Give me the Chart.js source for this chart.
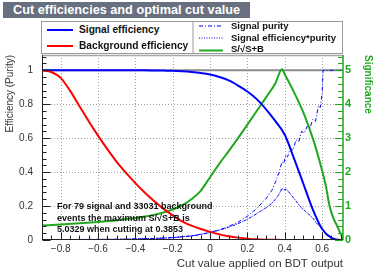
<!DOCTYPE html>
<html><head><meta charset="utf-8">
<script src="https://cdn.jsdelivr.net/npm/chart.js@4"></script>
<style>
html,body{margin:0;padding:0;background:#fff;}
#wrap{position:relative;width:382px;height:273px;overflow:hidden;font-family:"Liberation Sans",Arial,Helvetica,sans-serif;}
#c{position:absolute;left:0;top:0;}
.abs{position:absolute;white-space:nowrap;}
#title{left:3px;top:2px;width:247px;height:16px;background:#687080;color:#fff;font-weight:bold;font-size:12.7px;line-height:16px;padding-left:10px;box-sizing:border-box;}
#legbox{left:41px;top:21px;width:302px;height:33px;border:1px solid #9a9a9a;box-sizing:border-box;background:#fff;}
.lt{font-weight:bold;color:#111;height:12px;line-height:12px;}
.l1{font-size:10.2px;}
.l2{font-size:9.5px;}
#note{left:57px;top:201px;font-weight:bold;font-size:9px;line-height:11.5px;color:#111;}
svg{position:absolute;left:0;top:0;}
</style>
</head><body>
<div id="wrap">
<canvas id="c" width="382" height="273"></canvas>
<div id="title" class="abs">Cut efficiencies and optimal cut value</div>
<div id="legbox" class="abs"></div>
<svg width="382" height="273">
  <line x1="193" y1="21" x2="193" y2="54" stroke="#9a9a9a" stroke-width="1"/>
  <line x1="47" y1="30" x2="73" y2="30" stroke="#0000ff" stroke-width="2"/>
  <line x1="47" y1="46" x2="73" y2="46" stroke="#ff0000" stroke-width="2"/>
  <line x1="199" y1="26" x2="223" y2="26" stroke="#0000ff" stroke-width="1" stroke-dasharray="4 2 1 2"/>
  <line x1="199" y1="38" x2="223" y2="38" stroke="#0000ff" stroke-width="1" stroke-dasharray="1 1.5"/>
  <line x1="199" y1="50.5" x2="223" y2="50.5" stroke="#1fa81f" stroke-width="2"/>
</svg>
<div class="abs lt l1" style="left:79px;top:24px;">Signal efficiency</div>
<div class="abs lt l1" style="left:79px;top:40px;">Background efficiency</div>
<div class="abs lt l2" style="left:231px;top:20px;">Signal purity</div>
<div class="abs lt l2" style="left:231px;top:32px;">Signal efficiency*purity</div>
<div class="abs lt l2" style="left:231px;top:42.5px;">S/√S+B</div>
<div id="note" class="abs">For 79 signal and 33031 background<br>events the maximum S/√S+B is<br>5.0329 when cutting at 0.3853</div>
</div>
<script>
// ---- data ----
const cuts = [-0.9,-0.85,-0.8,-0.75,-0.7,-0.65,-0.6,-0.55,-0.5,-0.45,-0.4,-0.35,-0.3,-0.25,-0.2,-0.15,-0.1,-0.05,0,0.05,0.1,0.15,0.2,0.25,0.3,0.35,0.4,0.45,0.5,0.55,0.6,0.65,0.7,0.712];
const signalEff = [1,1,1,1,1,1,1,1,1,1,1,1,0.999,0.998,0.997,0.994,0.99,0.984,0.975,0.96,0.94,0.91,0.875,0.83,0.77,0.70,0.62,0.48,0.33,0.18,0.065,0.012,0,0];
const backgroundEff = [1.0,0.99,0.955,0.88,0.79,0.70,0.615,0.535,0.46,0.395,0.335,0.28,0.23,0.185,0.145,0.11,0.085,0.065,0.048,0.033,0.022,0.014,0.008,0.004,0.002,0.0009,0.0004,0,0,0,0,0,0,0];

const purityCuts = [-0.9,-0.7,-0.5,-0.4,-0.3,-0.2,-0.1,-0.05,0,0.05,0.1,0.15,0.2,0.25,0.3,0.33,0.35,0.37,0.385,0.395,0.405,0.415,0.43,0.445,0.46,0.475,0.49,0.505,0.52,0.535,0.55,0.565,0.58,0.59,0.6,0.605,0.712];
const signalPurity = [0.0024,0.003,0.004,0.006,0.009,0.014,0.024,0.032,0.045,0.06,0.08,0.105,0.14,0.185,0.245,0.29,0.34,0.40,0.46,0.45,0.50,0.49,0.54,0.53,0.59,0.58,0.64,0.63,0.67,0.66,0.71,0.70,0.79,0.78,0.86,1.0,1.0];

const effPurCuts = [-0.9,-0.5,-0.3,-0.2,-0.1,0,0.05,0.1,0.15,0.2,0.25,0.3,0.33,0.35,0.37,0.385,0.395,0.41,0.43,0.45,0.48,0.5,0.53,0.55,0.57,0.6,0.62,0.65,0.68,0.712];
const effTimesPurity = [0.0024,0.004,0.009,0.014,0.024,0.044,0.058,0.075,0.096,0.122,0.155,0.19,0.215,0.24,0.27,0.305,0.295,0.30,0.27,0.245,0.2,0.18,0.15,0.13,0.10,0.065,0.04,0.012,0.002,0];

const signifCuts = [-0.9,-0.8,-0.7,-0.6,-0.5,-0.4,-0.35,-0.3,-0.25,-0.2,-0.15,-0.1,-0.05,0,0.05,0.1,0.15,0.2,0.25,0.3,0.35,0.385,0.4,0.45,0.5,0.55,0.6,0.62,0.64,0.66,0.68,0.7,0.712];
const significance = [0.43,0.455,0.49,0.53,0.58,0.645,0.69,0.74,0.81,0.9,1.02,1.2,1.45,1.85,2.25,2.62,3.0,3.4,3.8,4.2,4.62,5.03,4.88,4.35,3.75,3.0,2.05,1.6,1.0,0.65,0.42,0.18,0.04];

const xRange = [-0.9, 0.712];
const effRange = [0, 1.09];
const sigRange = [0, 5.45];
const xStep = 0.2, xMinorStep = 0.05;
const effStep = 0.2, effMinorStep = 0.04;
const sigStep = 1, sigMinorStep = 0.2;
const unityLevel = 1;

const GREEN = '#1fa81f';
const pts = (xs, ys) => xs.map((x, i) => ({x, y: ys[i]}));
const fmt = v => { const r = Math.round(v * 10) / 10; return String(r).replace('-', '\u2212'); };

Chart.defaults.font.family = '"Liberation Sans", Arial, Helvetica, sans-serif';

const framePlugin = {
  id: 'frame',
  beforeDatasetsDraw(chart) {
    const {ctx, chartArea: a, scales: {x, y}} = chart;
    ctx.save();
    ctx.strokeStyle = '#a0a0a0'; ctx.lineWidth = 1; ctx.setLineDash([1, 2]);
    x.ticks.forEach(t => {
      const px = Math.round(x.getPixelForValue(t.value)) + 0.5;
      ctx.beginPath(); ctx.moveTo(px, a.top); ctx.lineTo(px, a.bottom); ctx.stroke();
    });
    y.ticks.forEach(t => {
      if (t.value <= 0) return;
      const py = Math.round(y.getPixelForValue(t.value)) + 0.5;
      ctx.beginPath(); ctx.moveTo(a.left, py); ctx.lineTo(a.right, py); ctx.stroke();
    });
    ctx.setLineDash([]);
    const pu = y.getPixelForValue(unityLevel);
    ctx.strokeStyle = '#8c8c8c'; ctx.lineWidth = 2;
    ctx.beginPath(); ctx.moveTo(a.left, pu); ctx.lineTo(a.right, pu); ctx.stroke();
    ctx.strokeStyle = '#a8a8a8'; ctx.lineWidth = 1.5;
    ctx.beginPath(); ctx.moveTo(a.left, a.top + 0.5); ctx.lineTo(a.right, a.top + 0.5); ctx.stroke();
    ctx.restore();
  },
  afterDatasetsDraw(chart) {
    const {ctx, chartArea: a, scales: {x, y, y2}} = chart;
    ctx.save();
    ctx.strokeStyle = '#222'; ctx.lineWidth = 1;
    const L = Math.round(a.left) + 0.5, B = Math.round(a.bottom) - 0.5;
    ctx.beginPath(); ctx.moveTo(L, a.top); ctx.lineTo(L, a.bottom); ctx.stroke();
    ctx.beginPath(); ctx.moveTo(a.left, B); ctx.lineTo(a.right, B); ctx.stroke();
    for (let v = effRange[0]; v <= effRange[1] + 1e-9; v += effMinorStep) {
      const major = Math.abs(v / effStep - Math.round(v / effStep)) < 1e-6;
      const py = Math.round(y.getPixelForValue(v)) + 0.5;
      ctx.beginPath(); ctx.moveTo(L, py); ctx.lineTo(L + (major ? 8 : 4), py); ctx.stroke();
    }
    const x0 = Math.ceil(xRange[0] / xMinorStep) * xMinorStep;
    for (let v = x0; v <= xRange[1] + 1e-9; v += xMinorStep) {
      const major = Math.abs(v / xStep - Math.round(v / xStep)) < 1e-6;
      const px = Math.round(x.getPixelForValue(v)) + 0.5;
      ctx.beginPath(); ctx.moveTo(px, B); ctx.lineTo(px, B - (major ? 7 : 4)); ctx.stroke();
    }
    const R = a.right;
    ctx.strokeStyle = GREEN; ctx.lineWidth = 1.5;
    ctx.beginPath(); ctx.moveTo(R, a.top); ctx.lineTo(R, a.bottom); ctx.stroke();
    ctx.lineWidth = 1;
    for (let v = sigRange[0]; v <= sigRange[1] + 1e-9; v += sigMinorStep) {
      const major = Math.abs(v / sigStep - Math.round(v / sigStep)) < 1e-6;
      const py = Math.round(y2.getPixelForValue(v)) + 0.5;
      ctx.beginPath(); ctx.moveTo(R, py); ctx.lineTo(R - (major ? 8 : 5), py); ctx.stroke();
    }
    ctx.restore();
  }
};

new Chart(document.getElementById('c'), {
  type: 'line',
  data: {
    datasets: [
      {label: 'Background efficiency', data: pts(cuts, backgroundEff), borderColor: '#ff0000', borderWidth: 2, cubicInterpolationMode: 'monotone', yAxisID: 'y'},
      {label: 'Signal efficiency', data: pts(cuts, signalEff), borderColor: '#0000ff', borderWidth: 2, cubicInterpolationMode: 'monotone', yAxisID: 'y'},
      {label: 'Signal purity', data: pts(purityCuts, signalPurity), borderColor: '#0000ff', borderWidth: 1, borderDash: [4, 2, 1, 2], tension: 0, yAxisID: 'y'},
      {label: 'Signal efficiency*purity', data: pts(effPurCuts, effTimesPurity), borderColor: '#0000ff', borderWidth: 1, borderDash: [3, 1, 1, 1], tension: 0, yAxisID: 'y'},
      {label: 'S/√S+B', data: pts(signifCuts, significance), borderColor: GREEN, borderWidth: 2, cubicInterpolationMode: 'monotone', yAxisID: 'y2'}
    ]
  },
  options: {
    responsive: false, animation: false, events: [],
    layout: {padding: {top: 55, left: 0, right: 0, bottom: 0}},
    elements: {point: {radius: 0}, line: {fill: false}},
    plugins: {legend: {display: false}, tooltip: {enabled: false}},
    scales: {
      x: {
        type: 'linear', min: xRange[0], max: xRange[1],
        afterFit: s => { s.height = 33; },
        grid: {display: false, drawTicks: false}, border: {display: false},
        ticks: {stepSize: xStep, includeBounds: false, padding: 3, autoSkip: false, maxRotation: 0, color: '#333', font: {size: 10}, callback: fmt},
        title: {display: true, text: 'Cut value applied on BDT output', align: 'end', color: '#333', font: {size: 11.5}, padding: {top: 0, bottom: 2}}
      },
      y: {
        position: 'left', min: effRange[0], max: effRange[1],
        afterFit: s => { s.width = 42; },
        grid: {display: false, drawTicks: false}, border: {display: false},
        ticks: {stepSize: effStep, includeBounds: false, padding: 9, color: '#333', font: {size: 10}, callback: fmt},
        title: {display: true, text: 'Efficiency (Purity)', align: 'end', color: '#333', font: {size: 10}, padding: {top: 4, bottom: 0}}
      },
      y2: {
        position: 'right', min: sigRange[0], max: sigRange[1],
        afterFit: s => { s.width = 39; },
        grid: {display: false, drawTicks: false}, border: {display: false},
        ticks: {stepSize: sigStep, includeBounds: false, padding: 2, color: GREEN, font: {size: 11, weight: 'bold'}, callback: fmt},
        title: {display: true, text: 'Significance', align: 'end', color: GREEN, font: {size: 10, weight: 'bold'}, padding: {top: 8, bottom: 0}}
      }
    }
  },
  plugins: [framePlugin]
});
</script>
</body></html>
